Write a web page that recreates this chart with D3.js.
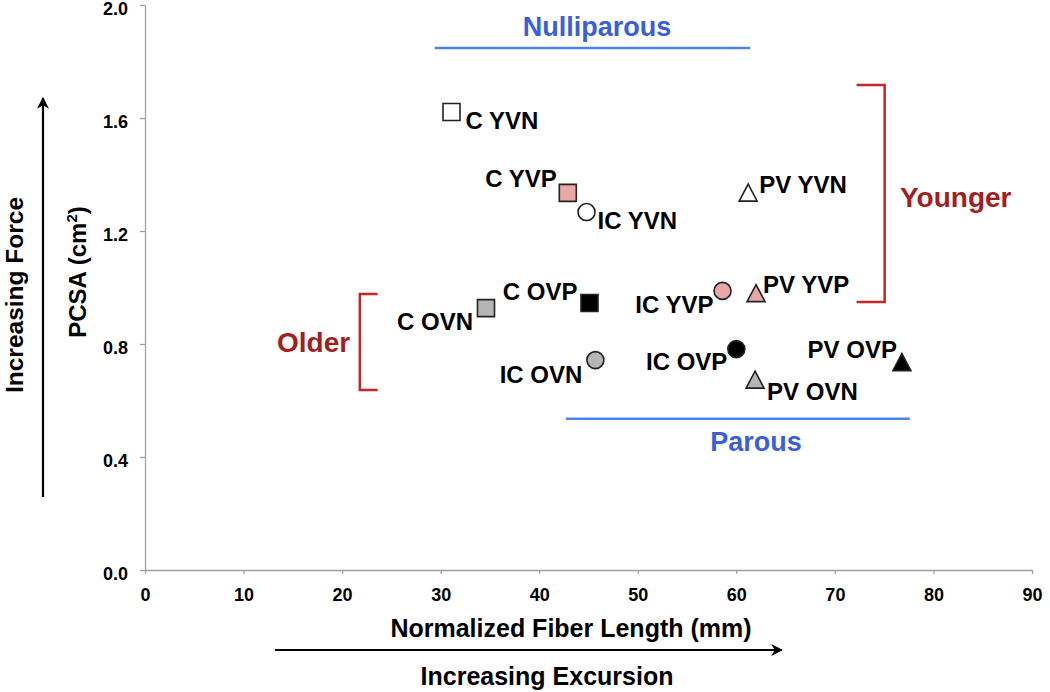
<!DOCTYPE html>
<html>
<head>
<meta charset="utf-8">
<script src="https://cdn.jsdelivr.net/npm/d3@7"></script>
<style>
  body { margin: 0; background: #fff; }
  svg text { font-family: "Liberation Sans", Arial, sans-serif; font-weight: bold; }
</style>
</head>
<body>
<div id="chart"></div>
<script>
// data
const labels = ["C YVN", "C YVP", "IC YVN", "C OVN", "C OVP", "IC OVN",
                "IC YVP", "PV YVP", "IC OVP", "PV OVN", "PV OVP", "PV YVN"]
const fiberLength = [31.1, 42.9, 44.8, 34.6, 45.1, 45.7, 58.6, 62.0, 60.0, 61.9, 76.8, 61.2]
const pcsa = [1.621, 1.335, 1.267, 0.927, 0.945, 0.743, 0.988, 0.980, 0.782, 0.674, 0.736, 1.336]
const shapes = ["square", "square", "circle", "square", "square", "circle",
                "circle", "triangle", "circle", "triangle", "triangle", "triangle"]
const fills = ["open", "pink", "open", "grey", "black", "grey",
               "pink", "pink", "black", "grey", "black", "open"]
const xTicks = [0, 10, 20, 30, 40, 50, 60, 70, 80, 90]
const yTicks = [0, 0.4, 0.8, 1.2, 1.6, 2.0]

// label placement next to each marker (px offsets, anchor)
const labelPos = [
  [14, 17, "start"], [-11, -6, "end"], [11, 17, "start"], [-13, 22, "end"],
  [-12, -3, "end"], [-13, 23, "end"], [-9, 22, "end"], [7, 0, "start"],
  [-9, 21, "end"], [12, 20, "start"], [-5, -4, "end"], [11, 0, "start"]
]

const fillColor = { open: "#ffffff", pink: "#e8a8a8", grey: "#b5b5b5", black: "#000000" }

const width = 1050, height = 692
const svg = d3.select("#chart").append("svg")
  .attr("width", width)
  .attr("height", height)

const x = d3.scaleLinear().domain([0, 90]).range([145, 1032])
const y = d3.scaleLinear().domain([0, 2]).range([570, 5])

svg.append("defs").append("marker")
  .attr("id", "head")
  .attr("viewBox", "0 0 10 10")
  .attr("refX", 9).attr("refY", 5)
  .attr("markerWidth", 5.5).attr("markerHeight", 5.5)
  .attr("orient", "auto")
  .append("path")
  .attr("d", "M0,0 L10,5 L0,10 L3,5 Z")
  .attr("fill", "#000")

// axes
const xAxis = svg.append("g")
  .attr("transform", `translate(0,${y(0)})`)
  .call(d3.axisBottom(x).tickValues(xTicks).tickSize(4).tickPadding(14).tickSizeOuter(0))
const yAxis = svg.append("g")
  .attr("transform", `translate(${x(0)},0)`)
  .call(d3.axisLeft(y).tickValues(yTicks).tickFormat(d3.format(".1f")).tickSize(5).tickPadding(12).tickSizeOuter(0))

for (const g of [xAxis, yAxis]) {
  g.select(".domain").attr("stroke", "#a0a0a0").attr("stroke-width", 1.3)
  g.selectAll(".tick line").attr("stroke", "#a0a0a0").attr("stroke-width", 1.3)
  g.selectAll(".tick text").attr("fill", "#000").style("font-size", "18px")
}
yAxis.selectAll(".tick text").attr("dy", "0.52em")

// axis titles and arrows
svg.append("text")
  .attr("x", 571).attr("y", 637)
  .attr("text-anchor", "middle")
  .style("font-size", "25px")
  .text("Normalized Fiber Length (mm)")

svg.append("line")
  .attr("x1", 275).attr("x2", 782).attr("y1", 650).attr("y2", 650)
  .attr("stroke", "#000").attr("stroke-width", 2.2)
  .attr("marker-end", "url(#head)")

svg.append("text")
  .attr("x", 547).attr("y", 685)
  .attr("text-anchor", "middle")
  .style("font-size", "25px")
  .text("Increasing Excursion")

const pcsaTitle = svg.append("text")
  .attr("transform", "translate(86,272) rotate(-90)")
  .attr("text-anchor", "middle")
  .style("font-size", "24px")
pcsaTitle.append("tspan").text("PCSA (cm")
pcsaTitle.append("tspan").attr("dy", -9).style("font-size", "15px").text("2")
pcsaTitle.append("tspan").attr("dy", 9).text(")")

svg.append("line")
  .attr("x1", 43).attr("x2", 43).attr("y1", 497).attr("y2", 98)
  .attr("stroke", "#000").attr("stroke-width", 2.2)
  .attr("marker-end", "url(#head)")

svg.append("text")
  .attr("transform", "translate(23,295) rotate(-90)")
  .attr("text-anchor", "middle")
  .style("font-size", "24.5px")
  .text("Increasing Force")

// group annotations
const blue = "#4a86e8", blueText = "#3b5fd9", red = "#c8252b", redText = "#a31f1f"

svg.append("line")
  .attr("x1", x(29.4)).attr("x2", x(61.4)).attr("y1", y(1.848)).attr("y2", y(1.848))
  .attr("stroke", blue).attr("stroke-width", 2.5)
svg.append("text")
  .attr("x", 597).attr("y", 36).attr("text-anchor", "middle")
  .attr("fill", blueText).style("font-size", "27px")
  .text("Nulliparous")

svg.append("line")
  .attr("x1", x(42.7)).attr("x2", x(77.6)).attr("y1", y(0.535)).attr("y2", y(0.535))
  .attr("stroke", blue).attr("stroke-width", 2.5)
svg.append("text")
  .attr("x", 756).attr("y", 451).attr("text-anchor", "middle")
  .attr("fill", blueText).style("font-size", "27px")
  .text("Parous")

svg.append("path")
  .attr("d", `M${x(72.2)},${y(1.717)} H${x(75.05)} V${y(0.949)} H${x(72.2)}`)
  .attr("fill", "none").attr("stroke", red).attr("stroke-width", 2.5)
svg.append("text")
  .attr("x", 900).attr("y", 207)
  .attr("fill", redText).style("font-size", "28px")
  .text("Younger")

svg.append("path")
  .attr("d", `M${x(23.6)},${y(0.977)} H${x(21.8)} V${y(0.637)} H${x(23.6)}`)
  .attr("fill", "none").attr("stroke", red).attr("stroke-width", 2.5)
svg.append("text")
  .attr("x", 277).attr("y", 352)
  .attr("fill", redText).style("font-size", "28px")
  .text("Older")

// markers
function shapePath(shape) {
  if (shape === "square") return "M-8.5,-8.5 H8.5 V8.5 H-8.5 Z"
  if (shape === "triangle") return "M0,-8.5 L9,8.5 L-9,8.5 Z"
  return d3.arc()({ innerRadius: 0, outerRadius: 8.5, startAngle: 0, endAngle: 2 * Math.PI })
}

const points = labels.map((name, i) => ({
  name, fx: fiberLength[i], py: pcsa[i], shape: shapes[i], fill: fills[i], pos: labelPos[i]
}))

svg.selectAll("path.pt")
  .data(points)
  .enter()
  .append("path")
    .attr("class", "pt")
    .attr("transform", d => `translate(${x(d.fx)},${y(d.py)})`)
    .attr("d", d => shapePath(d.shape))
    .attr("fill", d => fillColor[d.fill])
    .attr("stroke", "#222")
    .attr("stroke-width", 1.6)

svg.selectAll("text.lbl")
  .data(points)
  .enter()
  .append("text")
    .attr("class", "lbl")
    .attr("x", d => x(d.fx) + d.pos[0])
    .attr("y", d => y(d.py) + d.pos[1])
    .attr("text-anchor", d => d.pos[2])
    .style("font-size", "24px")
    .text(d => d.name)
</script>
</body>
</html>
